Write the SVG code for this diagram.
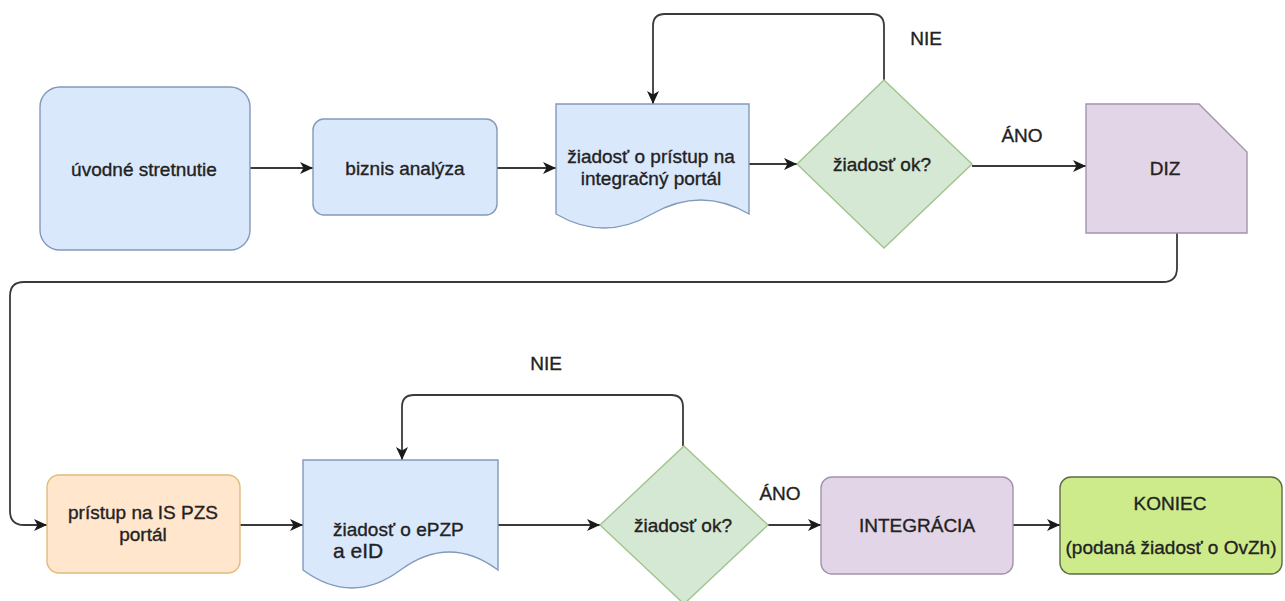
<svg xmlns="http://www.w3.org/2000/svg" width="1285" height="601" viewBox="0 0 1285 601">
  <style>
    text { font-family: "Liberation Sans", Arial, Helvetica, sans-serif; font-size: 19px; fill: #222222; stroke: #222222; stroke-width: 0.35px; }
    .c { text-anchor: middle; }
    .blue { fill: #dae8fc; stroke: #8399bb; stroke-width: 1.4; }
    .green { fill: #d5e8d4; stroke: #9fc48d; stroke-width: 1.4; }
    .purple { fill: #e1d5e7; stroke: #a493ad; stroke-width: 1.4; }
    .orange { fill: #ffe6cc; stroke: #e0bb7a; stroke-width: 1.4; }
    .lime { fill: #cdeb8b; stroke: #5e6b48; stroke-width: 1.4; }
    .edge { fill: none; stroke: #3a3a3a; stroke-width: 1.8; }
    .arr { marker-end: url(#ah); }
  </style>
  <defs>
    <marker id="ah" markerUnits="userSpaceOnUse" markerWidth="14" markerHeight="12" refX="13" refY="6" orient="auto">
      <path d="M0,0 L13,6 L0,12 L3.5,6 Z" fill="#1a1a1a"/>
    </marker>
  </defs>
  <rect width="1285" height="601" fill="#ffffff"/>

  <g id="connectors">
    <path class="edge arr" d="M250,168 H313"/>
    <path class="edge arr" d="M497,168 H556"/>
    <path class="edge arr" d="M749,164 H797"/>
    <path class="edge arr" d="M884,80 V26 Q884,14 872,14 H665 Q653,14 653,26 V104"/>
    <path class="edge arr" d="M972,166 H1086"/>
    <path class="edge arr" d="M1177,233 V268 Q1177,282 1163,282 H24 Q10,282 10,296 V511 Q10,525 24,525 H47"/>
    <path class="edge arr" d="M240,525 H303"/>
    <path class="edge arr" d="M498,525 H600"/>
    <path class="edge arr" d="M683,446 V407 Q683,395 671,395 H414 Q402,395 402,407 V460"/>
    <path class="edge arr" d="M768,525 H821"/>
    <path class="edge arr" d="M1013,525 H1060"/>
    <text class="c" x="926" y="45">NIE</text>
    <text class="c" x="1022" y="142">ÁNO</text>
    <text class="c" x="546" y="370">NIE</text>
    <text class="c" x="780" y="500">ÁNO</text>
  </g>

  <g id="uvodne">
    <rect class="blue" x="40" y="87" width="210" height="163" rx="20"/>
    <text class="c" x="144" y="176">úvodné stretnutie</text>
  </g>

  <g id="biznis">
    <rect class="blue" x="313" y="119" width="184" height="96" rx="11"/>
    <text class="c" x="405" y="175">biznis analýza</text>
  </g>

  <g id="ziadost-portal">
    <path class="blue" d="M556,104 H749 V214 Q701,186 652,214 Q604,242 556,214 Z"/>
    <text class="c" x="651" y="163">žiadosť o prístup na</text>
    <text class="c" x="651" y="185">integračný portál</text>
  </g>

  <g id="decision1">
    <path class="green" d="M884,80 L972,164 L884,248 L797,164 Z"/>
    <text class="c" x="882" y="171">žiadosť ok?</text>
  </g>

  <g id="diz">
    <path class="purple" d="M1086,104 H1199 L1247,152 V233 H1086 Z"/>
    <text class="c" x="1165" y="175">DIZ</text>
  </g>

  <g id="pristup-pzs">
    <rect class="orange" x="47" y="475" width="193" height="98" rx="12"/>
    <text class="c" x="143" y="519">prístup na IS PZS</text>
    <text class="c" x="143" y="541">portál</text>
  </g>

  <g id="ziadost-epzp">
    <path class="blue" d="M303,460 H498 V570 Q449.5,534 400.5,570 Q352,606 303,570 Z"/>
    <text x="333" y="536">žiadosť o ePZP</text>
    <text x="333" y="558" style="font-size:21px">a eID</text>
  </g>

  <g id="decision2">
    <path class="green" d="M684,446 L768,525 L684,604 L600,525 Z"/>
    <text class="c" x="683" y="532">žiadosť ok?</text>
  </g>

  <g id="integracia">
    <rect class="purple" x="821" y="477" width="192" height="97" rx="11"/>
    <text class="c" x="917" y="532">INTEGRÁCIA</text>
  </g>

  <g id="koniec">
    <rect class="lime" x="1060" y="477" width="222" height="97" rx="11"/>
    <text class="c" x="1170" y="510">KONIEC</text>
    <text class="c" x="1171" y="554">(podaná žiadosť o OvZh)</text>
  </g>
</svg>
